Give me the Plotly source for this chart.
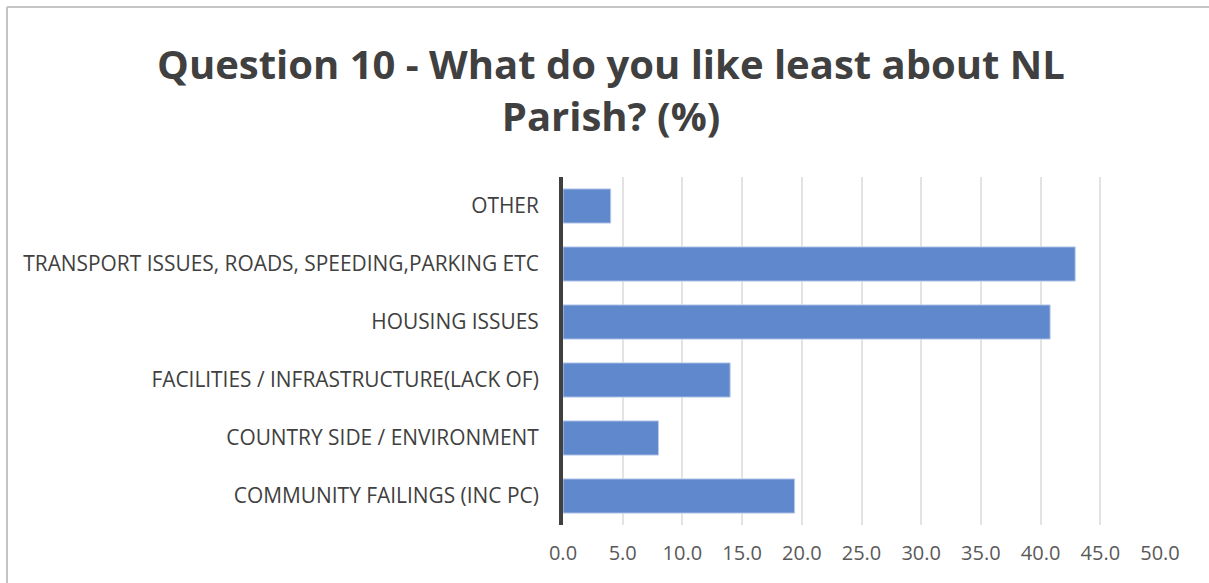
import plotly.graph_objects as go

categories = [
    "COMMUNITY FAILINGS (INC PC)",
    "COUNTRY SIDE / ENVIRONMENT",
    "FACILITIES / INFRASTRUCTURE(LACK OF)",
    "HOUSING ISSUES",
    "TRANSPORT ISSUES, ROADS, SPEEDING,PARKING ETC",
    "OTHER",
]
values = [19.4, 8.0, 14.0, 40.8, 42.9, 4.0]
x_ticks = [0, 5, 10, 15, 20, 25, 30, 35, 40, 45, 50]
x_tick_labels = [f"{v:.1f}" for v in x_ticks]

W, H = 1209, 583
L, R, T, B = 563, 49, 177, 58

fig = go.Figure()
fig.add_trace(go.Bar(
    y=categories, x=values, orientation="h",
    marker=dict(color="rgb(96,136,205)", line=dict(color="rgba(190,205,235,1)", width=1)),
    width=0.59,
))

pw = W - L - R
ph = H - T - B
x_left = (7 - L) / pw
x_right = (W + 10 - L) / pw
y_top = (H - B - 7) / ph
y_bottom = (H - B - H - 10) / ph
fig.update_layout(
    width=W, height=H,
    margin=dict(l=L, r=R, t=T, b=B, pad=0, autoexpand=False),
    paper_bgcolor="white", plot_bgcolor="white",
    showlegend=False,
    title=dict(
        text="<b>Question 10 - What do you like least about NL<br>Parish? (%)</b>",
        x=611 / W, xanchor="center", xref="container",
        y=1 - 79 / H, yanchor="top", yref="container",
        font=dict(family="Open Sans, sans-serif", size=40, color="#404040"),
    ),
    xaxis=dict(
        range=[0, 50], tickvals=x_ticks, ticktext=x_tick_labels,
        showgrid=True, gridcolor="#e3e3e3", gridwidth=2,
        zeroline=False, showline=False,
        ticks="outside", ticklen=10, tickcolor="rgba(0,0,0,0)",
        tickfont=dict(family="Open Sans, sans-serif", size=20, color="#595959"),
        fixedrange=True,
    ),
    yaxis=dict(
        categoryorder="array", categoryarray=categories,
        range=[-0.5, 5.5],
        showgrid=False, zeroline=False,
        showline=True, linecolor="#404040", linewidth=4,
        ticks="outside", ticklen=16, tickcolor="rgba(0,0,0,0)",
        tickfont=dict(family="Open Sans, sans-serif", size=20.9, color="#404040"),
        fixedrange=True,
    ),
    shapes=[
        dict(type="line", xref="paper", yref="paper",
             x0=x_left, x1=x_right, y0=y_top, y1=y_top,
             line=dict(color="#c4c4c4", width=2), layer="below"),
        dict(type="line", xref="paper", yref="paper",
             x0=x_left, x1=x_left, y0=y_top, y1=y_bottom,
             line=dict(color="#c4c4c4", width=2), layer="below"),
    ],
)
fig.write_html(
    "out.html",
    config={"displayModeBar": False},
    post_script="document.body.style.margin='0';document.body.style.overflow='hidden';",
)
